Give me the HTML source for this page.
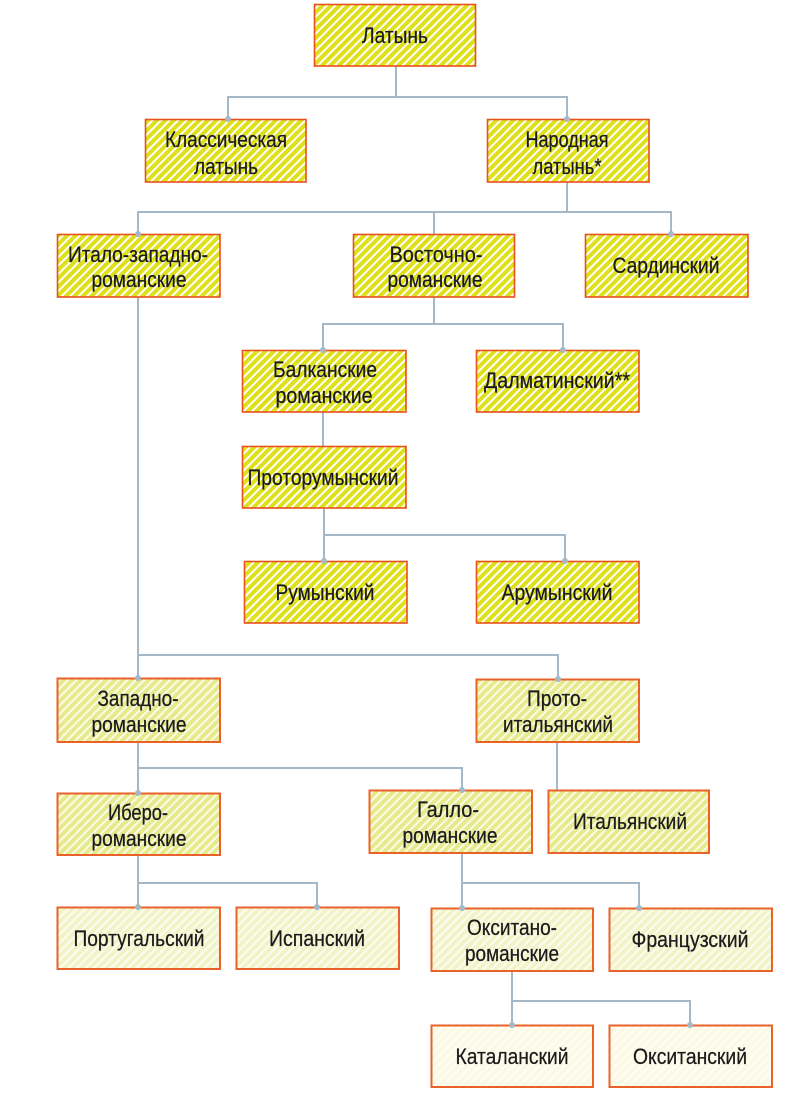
<!DOCTYPE html>
<html>
<head>
<meta charset="utf-8">
<style>
html,body{margin:0;padding:0;background:#fff;}
svg{display:block;}
text{font-family:"Liberation Sans","DejaVu Sans",sans-serif;font-size:22px;fill:#1b1b1b;stroke:#1b1b1b;stroke-width:0.25;text-anchor:middle;}
</style>
</head>
<body>
<svg width="800" height="1098" viewBox="0 0 800 1098" xmlns="http://www.w3.org/2000/svg">
<defs>
<pattern id="p1" width="6" height="6" patternUnits="userSpaceOnUse" patternTransform="rotate(45)">
<rect width="6" height="6" fill="#dfe01a"/><rect width="2" height="6" fill="#ffffff"/>
</pattern>
<pattern id="p2" width="6" height="6" patternUnits="userSpaceOnUse" patternTransform="rotate(45)">
<rect width="6" height="6" fill="#e6e98c"/><rect width="2" height="6" fill="#fbfce8"/>
</pattern>
<pattern id="p3" width="6" height="6" patternUnits="userSpaceOnUse" patternTransform="rotate(45)">
<rect width="6" height="6" fill="#f2f4c8"/><rect width="2" height="6" fill="#fcfdf2"/>
</pattern>
<pattern id="p4" width="6" height="6" patternUnits="userSpaceOnUse" patternTransform="rotate(45)">
<rect width="6" height="6" fill="#fcfae4"/><rect width="2" height="6" fill="#fffef6"/>
</pattern>
</defs>

<!-- connectors -->
<g stroke="#a5b8c8" stroke-width="2" fill="none">
<polyline points="396,66 396,97"/>
<polyline points="228,119 228,97 567,97 567,119"/>
<polyline points="567,182 567,212"/>
<polyline points="138,234 138,212 671,212 671,234"/>
<polyline points="434,212 434,234"/>
<polyline points="434,297 434,324"/>
<polyline points="323,350 323,324 563,324 563,350"/>
<polyline points="323,412 323,446"/>
<polyline points="324,508 324,535"/>
<polyline points="324,561 324,535 565,535 565,561"/>
<polyline points="138,297 138,678"/>
<polyline points="138,655 558,655 558,679"/>
<polyline points="138,742 138,793"/>
<polyline points="138,768 462,768 462,790"/>
<polyline points="557,742 557,790"/>
<polyline points="138,855 138,907"/>
<polyline points="138,883 317,883 317,907"/>
<polyline points="462,853 462,908"/>
<polyline points="462,883 639,883 639,908"/>
<polyline points="512,971 512,1001"/>
<polyline points="512,1025 512,1001 690,1001 690,1025"/>
</g>

<!-- boxes -->
<g stroke-width="1.6" stroke="#e8501c">
<rect x="314.5" y="4.5" width="161" height="61.5" fill="url(#p1)"/>
<rect x="145.5" y="119.5" width="160.5" height="62.5" fill="url(#p1)"/>
<rect x="487.5" y="119.5" width="161.5" height="62.5" fill="url(#p1)"/>
<rect x="57.5" y="234.5" width="162.5" height="62.5" fill="url(#p1)"/>
<rect x="353.5" y="234.5" width="161" height="62.5" fill="url(#p1)"/>
<rect x="585.5" y="234.5" width="162.5" height="62.5" fill="url(#p1)"/>
<rect x="242.5" y="350.5" width="163.5" height="61.5" fill="url(#p1)"/>
<rect x="476.5" y="350.5" width="162.5" height="61.5" fill="url(#p1)"/>
<rect x="242.5" y="446.5" width="163.5" height="61.5" fill="url(#p1)"/>
<rect x="244.5" y="561.5" width="162.5" height="61.5" fill="url(#p1)"/>
<rect x="476.5" y="561.5" width="162.5" height="61.5" fill="url(#p1)"/>
</g>
<g stroke-width="2" stroke="#e8622a">
<rect x="57.5" y="678.5" width="162.5" height="63.5" fill="url(#p2)"/>
<rect x="476.5" y="679.5" width="162.5" height="62.5" fill="url(#p2)"/>
<rect x="57.5" y="793.5" width="162.5" height="61.5" fill="url(#p2)"/>
<rect x="369.5" y="790.5" width="162.5" height="62.5" fill="url(#p2)"/>
<rect x="548.5" y="790.5" width="160.5" height="62.5" fill="url(#p2)"/>
<rect x="57.5" y="907.5" width="162.5" height="61.5" fill="url(#p3)"/>
<rect x="236.5" y="907.5" width="162.5" height="61.5" fill="url(#p3)"/>
<rect x="431.5" y="908.5" width="161.5" height="62.5" fill="url(#p3)"/>
<rect x="609.5" y="908.5" width="162.5" height="62.5" fill="url(#p3)"/>
<rect x="431.5" y="1025.5" width="161.5" height="61.5" fill="url(#p4)"/>
<rect x="609.5" y="1025.5" width="162.5" height="61.5" fill="url(#p4)"/>
</g>

<!-- dots -->
<g fill="#a5b8c8">
<circle cx="228" cy="119" r="3"/>
<circle cx="567" cy="119" r="3"/>
<circle cx="138" cy="234" r="3"/>
<circle cx="671" cy="234" r="3"/>
<circle cx="323" cy="350" r="3"/>
<circle cx="563" cy="350" r="3"/>
<circle cx="324" cy="561" r="3"/>
<circle cx="565" cy="561" r="3"/>
<circle cx="138" cy="678" r="3"/>
<circle cx="558" cy="679" r="3"/>
<circle cx="138" cy="793" r="3"/>
<circle cx="462" cy="790" r="3"/>
<circle cx="138" cy="907" r="3"/>
<circle cx="317" cy="907" r="3"/>
<circle cx="462" cy="908" r="3"/>
<circle cx="639" cy="908" r="3"/>
<circle cx="512" cy="1025" r="3"/>
<circle cx="690" cy="1025" r="3"/>
</g>

<!-- labels -->
<g>
<text x="395" y="43" textLength="66" lengthAdjust="spacingAndGlyphs">Латынь</text>

<text x="226" y="147" textLength="122" lengthAdjust="spacingAndGlyphs">Классическая</text>
<text x="226" y="174" textLength="64" lengthAdjust="spacingAndGlyphs">латынь</text>

<text x="567" y="147" textLength="83" lengthAdjust="spacingAndGlyphs">Народная</text>
<text x="567" y="174" textLength="69" lengthAdjust="spacingAndGlyphs">латынь*</text>

<text x="138" y="262" textLength="140" lengthAdjust="spacingAndGlyphs">Итало-западно-</text>
<text x="139" y="287" textLength="95" lengthAdjust="spacingAndGlyphs">романские</text>

<text x="436" y="262" textLength="93" lengthAdjust="spacingAndGlyphs">Восточно-</text>
<text x="435" y="287" textLength="95" lengthAdjust="spacingAndGlyphs">романские</text>

<text x="666" y="273" textLength="107" lengthAdjust="spacingAndGlyphs">Сардинский</text>

<text x="325" y="377" textLength="104" lengthAdjust="spacingAndGlyphs">Балканские</text>
<text x="324" y="403" textLength="97" lengthAdjust="spacingAndGlyphs">романские</text>

<text x="557" y="388" textLength="146" lengthAdjust="spacingAndGlyphs">Далматинский**</text>

<text x="323" y="485" textLength="151" lengthAdjust="spacingAndGlyphs">Проторумынский</text>

<text x="325" y="600" textLength="99" lengthAdjust="spacingAndGlyphs">Румынский</text>
<text x="557" y="600" textLength="111" lengthAdjust="spacingAndGlyphs">Арумынский</text>

<text x="138" y="706" textLength="81" lengthAdjust="spacingAndGlyphs">Западно-</text>
<text x="139" y="732" textLength="95" lengthAdjust="spacingAndGlyphs">романские</text>

<text x="557" y="706" textLength="60" lengthAdjust="spacingAndGlyphs">Прото-</text>
<text x="558" y="732" textLength="110" lengthAdjust="spacingAndGlyphs">итальянский</text>

<text x="138" y="820" textLength="60" lengthAdjust="spacingAndGlyphs">Иберо-</text>
<text x="139" y="846" textLength="95" lengthAdjust="spacingAndGlyphs">романские</text>

<text x="448" y="817" textLength="62" lengthAdjust="spacingAndGlyphs">Галло-</text>
<text x="450" y="843" textLength="95" lengthAdjust="spacingAndGlyphs">романские</text>

<text x="630" y="829" textLength="114" lengthAdjust="spacingAndGlyphs">Итальянский</text>

<text x="139" y="946" textLength="131" lengthAdjust="spacingAndGlyphs">Португальский</text>
<text x="317" y="946" textLength="96" lengthAdjust="spacingAndGlyphs">Испанский</text>

<text x="512" y="935" textLength="90" lengthAdjust="spacingAndGlyphs">Окситано-</text>
<text x="512" y="961" textLength="94" lengthAdjust="spacingAndGlyphs">романские</text>

<text x="690" y="947" textLength="117" lengthAdjust="spacingAndGlyphs">Французский</text>

<text x="512" y="1064" textLength="113" lengthAdjust="spacingAndGlyphs">Каталанский</text>
<text x="690" y="1064" textLength="114" lengthAdjust="spacingAndGlyphs">Окситанский</text>
</g>
</svg>
</body>
</html>
